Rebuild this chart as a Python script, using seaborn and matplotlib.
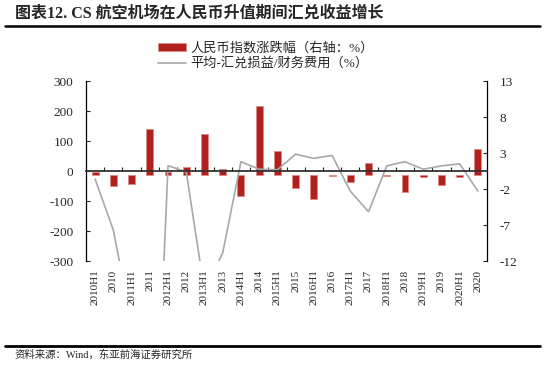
import matplotlib
matplotlib.use('Agg')
import matplotlib.pyplot as plt
import numpy as np
import seaborn as sns
from matplotlib.lines import Line2D
from matplotlib.patches import Patch

# data
periods = ['2010H1', '2010', '2011H1', '2011', '2012H1', '2012', '2013H1', '2013',
           '2014H1', '2014', '2015H1', '2015', '2016H1', '2016', '2017H1', '2017',
           '2018H1', '2018', '2019H1', '2019', '2020H1', '2020']
rmb_change = [0.35, -1.6, -1.25, 6.4, 0.35, 1.0, 5.7, 0.8, -2.95, 9.55, 3.25,
              -1.9, -3.4, -0.2, -1.0, 1.6, -0.2, -2.45, -0.35, -1.4, -0.3, 3.5]
fx_ratio = [-27, -197, -510, -1400, 18, -3, -400, -273, 31, 6, 4,
            56, 42, 52, -67, -136, 17, 31, 6, 17, 24, -67]
left_ticks = [-300, -200, -100, 0, 100, 200, 300]
right_ticks = [-12, -7, -2, 3, 8, 13]
bar_label = '人民币指数涨跌幅（右轴：%）'
line_label = '平均-汇兑损益/财务费用（%）'

bar_color = '#B2201D'
bar_edge = '#DE8A86'
line_color = '#A8A8A8'

sns.set_style('ticks')
plt.rcParams['font.family'] = ['Liberation Serif', 'Noto Sans CJK SC']
plt.rcParams['axes.unicode_minus'] = False

W, H = 550, 367
fig = plt.figure(figsize=(5.5, 3.67), dpi=100)
ax = fig.add_axes([86 / W, 1 - 261 / H, (487 - 86) / W, 180 / H])
ax2 = ax.twinx()

# line on the left axis, bars on the right axis
sns.lineplot(x=periods, y=fx_ratio, ax=ax, color=line_color, linewidth=1.2, sort=False)
sns.barplot(x=periods, y=rmb_change, ax=ax2, color=bar_color, saturation=1,
            width=0.38, edgecolor=bar_edge, linewidth=0.6)

ax.set_zorder(ax2.get_zorder() + 1)
ax.patch.set_visible(False)

ax.set_ylim(-300, 300)
ax.set_yticks(left_ticks)
ax2.set_ylim(-12, 13)
ax2.set_yticks(right_ticks)

ax.set_xlim(-0.5, len(periods) - 0.5)
ax.set_xticks(np.arange(0.5, len(periods) - 1, 1.0))
ax.set_xticks(np.arange(len(periods)), labels=periods, minor=True)
ax.tick_params(axis='x', which='major', direction='in', length=3, width=0.8,
               labelbottom=False, color='#222222')
ax.tick_params(axis='x', which='minor', length=0, pad=71, labelsize=8,
               labelrotation=90)
ax.tick_params(axis='y', direction='in', length=3, width=0.8, pad=9, labelsize=9.5)
ax2.tick_params(axis='y', direction='in', length=3, width=0.8, pad=9, labelsize=9.5)

ax.spines['bottom'].set_position(('data', 0))
ax.spines['bottom'].set_color('#333333')
ax.spines['bottom'].set_linewidth(1.3)
ax.spines['left'].set_color('black')
ax.spines['left'].set_linewidth(0.9)
for s in ['top', 'right']:
    ax.spines[s].set_visible(False)
for s in ['top', 'bottom', 'left']:
    ax2.spines[s].set_visible(False)
ax2.spines['right'].set_color('black')
ax2.spines['right'].set_linewidth(0.9)

ax.set_xlabel('')
ax.set_ylabel('')
ax2.set_ylabel('')

handles = [Patch(facecolor=bar_color, edgecolor=bar_edge, linewidth=0.6),
           Line2D([], [], color=line_color, linewidth=1.2)]
fig.legend(handles, [bar_label, line_label], loc='center',
           bbox_to_anchor=(266 / W, 1 - 56 / H), frameon=False, fontsize=9.5,
           handlelength=2.1, handleheight=0.5, labelspacing=0.2, handletextpad=0.4)

fig.text(15 / W, 1 - 14 / H, '图表12. CS 航空机场在人民币升值期间汇兑收益增长',
         fontsize=11.5, fontweight='bold', ha='left', va='center')
fig.add_artist(Line2D([5 / W, 540 / W], [1 - 26 / H, 1 - 26 / H], color='black', linewidth=1.8))
fig.add_artist(Line2D([5 / W, 540 / W], [1 - 346 / H, 1 - 346 / H], color='black', linewidth=2.0))
fig.text(15 / W, 1 - 355 / H, '资料来源：Wind，东亚前海证券研究所',
         fontsize=7.5, ha='left', va='center')

fig.savefig('out.png', dpi=100)
